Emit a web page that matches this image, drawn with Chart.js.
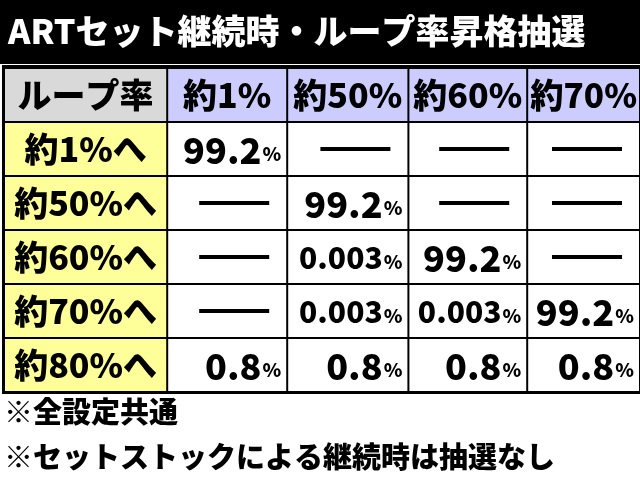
<!DOCTYPE html><html><head><meta charset="utf-8">
<script src="https://cdn.jsdelivr.net/npm/chart.js@4"></script>
<style>html,body{margin:0;background:#fff}#w{width:640px;height:486px}</style></head><body>
<div id="w"><canvas id="c" width="640" height="486"></canvas></div>
<script>
const title = "ARTセット継続時・ループ率昇格抽選";
const corner = "ループ率";
const columns = ["約1%","約50%","約60%","約70%"];
const rows = ["約1%へ","約50%へ","約60%へ","約70%へ","約80%へ"];
const values = [
  ["99.2", null, null, null],
  [null, "99.2", null, null],
  [null, "0.003", "99.2", null],
  [null, "0.003", "0.003", "99.2"],
  ["0.8", "0.8", "0.8", "0.8"]
];
const notes = ["※全設定共通","※セットストックによる継続時は抽選なし"];
const colEdges = [0, 1.36, 2.36, 3.37, 4.36, 5.3];
const F = '"Noto Sans CJK JP", sans-serif';
const tablePlugin = {
  id: 'table',
  beforeDraw(ch) {
    const c = ch.ctx, xs = ch.scales.x, ys = ch.scales.y;
    c.save();
    c.fillStyle = '#fff'; c.fillRect(0,0,640,486);
    c.fillStyle = '#000'; c.fillRect(0,0,640,64);
    c.fillStyle = '#fff'; c.font = '900 34px ' + F; c.textBaseline='middle'; c.textAlign='left';
    c.fillText(title, 8, 31, 624);
    const X = colEdges.map(v => xs.getPixelForValue(v));
    const Y = [0,1,2,3,4,5,6].map(v => ys.getPixelForValue(v));
    c.fillStyle = '#000'; c.fillRect(X[0]-2, Y[0]-3, X[5]-X[0]+4, Y[6]-Y[0]+5);
    const cell = (i, j, col) => { c.fillStyle = col; c.fillRect(X[i]+1, Y[j]+1, X[i+1]-X[i]-2, Y[j+1]-Y[j]-2); };
    for (let j = 0; j < 6; j++) for (let i = 0; i < 5; i++) {
      let col = '#fff';
      if (j === 0 && i === 0) col = '#d9d9d9'; else if (j === 0) col = '#ccccff'; else if (i === 0) col = '#ffff99';
      cell(i, j, col);
    }
    c.fillStyle = '#000'; c.textBaseline = 'middle';
    c.font = '900 34px ' + F; c.textAlign = 'center';
    c.fillText(corner, (X[0]+X[1])/2, (Y[0]+Y[1])/2, X[1]-X[0]-8);
    columns.forEach((t,i)=>c.fillText(t,(X[i+1]+X[i+2])/2,(Y[0]+Y[1])/2, X[i+2]-X[i+1]-6));
    rows.forEach((t,j)=>c.fillText(t,(X[0]+X[1])/2,(Y[j+1]+Y[j+2])/2, X[1]-X[0]-8));
    values.forEach((r,j)=>r.forEach((v,i)=>{
      const cy = (Y[j+1]+Y[j+2])/2, right = X[i+2]-6;
      if (v === null) { c.fillRect(right-82, cy-2, 70, 4); return; }
      c.font = '900 19px ' + F; c.textAlign='right';
      const pw = c.measureText('%').width;
      c.fillText('%', right, cy+5);
      if (v.length > 4) { c.font = '900 30px ' + F; c.fillText(v, right - pw - 1, cy+1, X[i+2]-X[i+1]-pw-10); }
      else { c.font = '900 36px ' + F; c.fillText(v, right - pw - 1, cy+1); }
    }));
    c.textAlign='left'; c.font = '900 29px ' + F;
    notes.forEach((t,k)=>c.fillText(t, 4, 412 + k*45));
    c.restore();
  }
};
new Chart(document.getElementById('c'), {
  type: 'scatter',
  data: { datasets: [{ data: [] }] },
  options: {
    responsive: false, animation: false, events: [],
    layout: { padding: { left: 4, right: 0, top: 68, bottom: 94 } },
    plugins: { legend: { display: false }, tooltip: { enabled: false } },
    scales: {
      x: { type: 'linear', min: 0, max: 5.3, display: false },
      y: { type: 'linear', min: 0, max: 6, reverse: true, display: false }
    }
  },
  plugins: [tablePlugin]
});
</script></body></html>
